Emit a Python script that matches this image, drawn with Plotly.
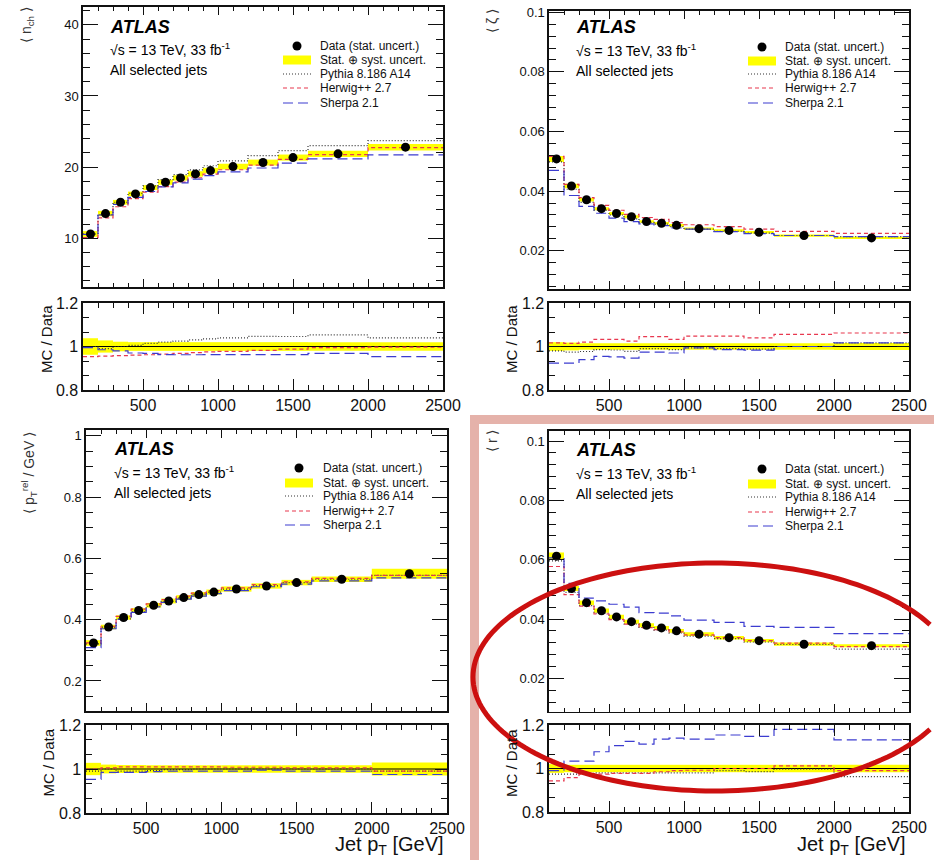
import math
import plotly.graph_objects as go

W, H = 934, 860
FONT = "Liberation Sans, Arial, Helvetica, sans-serif"

# ---------------- data ----------------
edges = [100, 200, 300, 400, 500, 600, 700, 800, 900, 1000, 1200, 1400, 1600, 2000, 2500]
xticks = [500, 1000, 1500, 2000, 2500]

# <n_ch>
nch_data = [10.6, 13.47, 15.06, 16.23, 17.12, 17.87, 18.48, 19.04, 19.51, 20.07, 20.64, 21.34, 21.86, 22.8]
nch_err = [0.038, 0.028, 0.022, 0.02, 0.02, 0.02, 0.02, 0.02, 0.02, 0.02, 0.02, 0.02, 0.02, 0.02]
nch_pythia = [1.0, 0.99, 1.0, 1.005, 1.014, 1.02, 1.025, 1.03, 1.035, 1.04, 1.047, 1.046, 1.053, 1.04]
nch_herwig = [0.953, 0.956, 0.958, 0.96, 0.962, 0.965, 0.968, 0.972, 0.975, 0.978, 0.982, 0.988, 0.995, 0.997]
nch_sherpa = [0.995, 0.985, 0.98, 0.97, 0.968, 0.963, 0.962, 0.962, 0.963, 0.963, 0.963, 0.963, 0.968, 0.953]

# <zeta>
zeta_data = [0.0508, 0.0417, 0.0371, 0.0341, 0.0325, 0.0314, 0.0298, 0.0292, 0.0285, 0.0274, 0.0268, 0.0262, 0.0251, 0.0243]
zeta_err = [0.02, 0.018, 0.015, 0.015, 0.015, 0.015, 0.015, 0.015, 0.015, 0.015, 0.015, 0.015, 0.015, 0.016]
zeta_pythia = [0.98, 0.974, 0.977, 0.986, 0.984, 0.978, 0.99, 0.99, 0.986, 0.994, 0.99, 0.988, 1.0, 1.017]
zeta_herwig = [1.017, 1.014, 1.02, 1.033, 1.033, 1.025, 1.045, 1.045, 1.033, 1.048, 1.048, 1.04, 1.056, 1.062]
zeta_sherpa = [0.924, 0.924, 0.94, 0.955, 0.952, 0.947, 0.974, 0.974, 0.97, 0.994, 0.986, 0.983, 1.0, 1.017]

# <pT_rel>
ptrel_data = [0.324, 0.376, 0.407, 0.430, 0.447, 0.461, 0.472, 0.482, 0.490, 0.500, 0.510, 0.521, 0.532, 0.550]
ptrel_err = [0.028, 0.02, 0.018, 0.018, 0.017, 0.017, 0.017, 0.017, 0.017, 0.017, 0.017, 0.017, 0.017, 0.03]
ptrel_pythia = [0.99, 1.0, 0.99, 0.99, 0.993, 0.997, 0.997, 1.0, 1.0, 1.0, 1.0, 1.0, 1.0, 0.99]
ptrel_herwig = [1.0, 1.005, 1.01, 1.01, 1.01, 1.01, 1.01, 1.01, 1.01, 1.008, 1.008, 1.005, 1.005, 0.99]
ptrel_sherpa = [0.953, 0.985, 0.985, 0.985, 0.988, 0.99, 0.99, 0.99, 0.99, 0.99, 0.995, 0.99, 0.99, 0.975]

# <r>
r_data = [0.0612, 0.0503, 0.0455, 0.0428, 0.0407, 0.0391, 0.0379, 0.0370, 0.0360, 0.0349, 0.0337, 0.0327, 0.0315, 0.0310]
r_err = [0.02, 0.017, 0.017, 0.017, 0.017, 0.017, 0.017, 0.017, 0.017, 0.017, 0.017, 0.017, 0.017, 0.017]
r_pythia = [0.974, 0.974, 0.978, 0.98, 0.98, 0.98, 0.98, 0.98, 0.98, 0.98, 0.99, 0.986, 0.997, 0.963]
r_herwig = [0.943, 0.958, 0.974, 0.974, 0.978, 0.978, 0.978, 0.985, 0.99, 0.992, 1.0, 1.0, 1.012, 0.99]
r_sherpa = [0.99, 1.034, 1.034, 1.077, 1.105, 1.125, 1.112, 1.135, 1.14, 1.135, 1.154, 1.148, 1.18, 1.132]

legend_labels = ["Data (stat. uncert.)", "Stat. \u2295 syst. uncert.", "Pythia 8.186 A14", "Herwig++ 2.7", "Sherpa 2.1"]

PY_C, HW_C, SH_C = "#333333", "#e8384f", "#3c3cd0"
PY_D, HW_D, SH_D = "1px,2px", "4px,3px", "10px,5px"
YEL = "#ffff00"

centers = [(a + b) / 2 for a, b in zip(edges[:-1], edges[1:])]
widths = [b - a for a, b in zip(edges[:-1], edges[1:])]


def X(px):
    return px / W


def Y(py):
    return 1 - py / H


panels = [
    dict(data=nch_data, err=nch_err, py=nch_pythia, hw=nch_herwig, sh=nch_sherpa,
         xd=(83, 443), md=(7, 287), rd=(303, 390), yr=[3.15, 42.5],
         yt=[10, 20, 30, 40], ytt=["10", "20", "30", "40"], ymin=2,
         ytitle="\u27e8 n<sub>ch</sub> \u27e9", yt_pos=(27, 5),
         mcd_pos=(46, 303), txt=(108, [27, 49, 70]),
         leg=(297, 318, (283, 311), [46, 60, 74, 88, 103]), xlabel=False),
    dict(data=zeta_data, err=zeta_err, py=zeta_pythia, hw=zeta_herwig, sh=zeta_sherpa,
         xd=(549, 909), md=(10.5, 289.3), rd=(303, 390), yr=[0.00705, 0.1006],
         yt=[0.02, 0.04, 0.06, 0.08, 0.1], ytt=["0.02", "0.04", "0.06", "0.08", "0.1"], ymin=0.004,
         ytitle="\u27e8 \u03b6 \u27e9", yt_pos=(492, 7),
         mcd_pos=(511, 303), txt=(574, [27, 50, 71]),
         leg=(762, 783, (748, 776), [47, 61, 74, 88, 103]), xlabel=False),
    dict(data=ptrel_data, err=ptrel_err, py=ptrel_pythia, hw=ptrel_herwig, sh=ptrel_sherpa,
         xd=(86, 447), md=(430, 711), rd=(725, 813), yr=[0.102, 1.019],
         yt=[0.2, 0.4, 0.6, 0.8, 1.0], ytt=["0.2", "0.4", "0.6", "0.8", "1"], ymin=0.05,
         ytitle="\u27e8 p<sub>T</sub><sup>rel</sup> / GeV \u27e9", yt_pos=(29, 430),
         mcd_pos=(47.5, 727), txt=(112, [449, 472, 493]),
         leg=(299, 321, (285, 313), [468, 483, 496, 511, 525]), xlabel=True),
    dict(data=r_data, err=r_err, py=r_pythia, hw=r_herwig, sh=r_sherpa,
         xd=(549, 909), md=(430.7, 711.7), rd=(725, 812), yr=[0.00874, 0.1035],
         yt=[0.02, 0.04, 0.06, 0.08, 0.1], ytt=["0.02", "0.04", "0.06", "0.08", "0.1"], ymin=0.004,
         ytitle="\u27e8 r \u27e9", yt_pos=(492, 428),
         mcd_pos=(511, 727), txt=(574, [450, 473, 494]),
         leg=(762, 783, (748, 776), [469, 484, 497, 512, 526]), xlabel=True),
]

fig = go.Figure()
layout = dict(width=W, height=H, margin=dict(l=0, r=0, t=0, b=0, pad=0, autoexpand=False), autosize=False,
              paper_bgcolor="white", plot_bgcolor="white", showlegend=False,
              barmode="overlay", font=dict(family=FONT, color="#111"))
shapes = []
annotations = []

AX_COMMON = dict(showline=True, linecolor="#111", linewidth=1.6, mirror="allticks", automargin=False,
                 ticks="inside", tickcolor="#111", tickwidth=1, showgrid=False, zeroline=False)


def steps(vals):
    return list(vals) + [vals[-1]]


def nm(a, k):
    return a if k == 1 else f"{a}{k}"


for i, p in enumerate(panels):
    km, kr = 2 * i + 1, 2 * i + 2
    xm, ym = ("x" if km == 1 else f"x{km}"), ("y" if km == 1 else f"y{km}")
    xr, yr_ = f"x{kr}", f"y{kr}"
    d = p["data"]

    # main panel
    fig.add_trace(go.Bar(x=centers, width=widths,
                         base=[v * (1 - e) for v, e in zip(d, p["err"])],
                         y=[2 * v * e for v, e in zip(d, p["err"])],
                         marker=dict(color=YEL, line=dict(width=0)), xaxis=xm, yaxis=ym))
    for key, col, dash in (("py", PY_C, PY_D), ("hw", HW_C, HW_D), ("sh", SH_C, SH_D)):
        vals = [r * v for r, v in zip(p[key], d)]
        fig.add_trace(go.Scatter(x=edges, y=steps(vals), mode="lines", line_shape="hv",
                                 line=dict(color=col, width=1.2, dash=dash), xaxis=xm, yaxis=ym))
    fig.add_trace(go.Scatter(x=centers, y=d, mode="markers",
                             marker=dict(color="black", size=9), xaxis=xm, yaxis=ym))

    # ratio panel
    fig.add_trace(go.Bar(x=centers, width=widths,
                         base=[1 - e for e in p["err"]], y=[2 * e for e in p["err"]],
                         marker=dict(color=YEL, line=dict(width=0)), xaxis=xr, yaxis=yr_))
    fig.add_trace(go.Scatter(x=[edges[0], edges[-1]], y=[1, 1], mode="lines",
                             line=dict(color="black", width=1.2), xaxis=xr, yaxis=yr_))
    for key, col, dash in (("py", PY_C, PY_D), ("hw", HW_C, HW_D), ("sh", SH_C, SH_D)):
        fig.add_trace(go.Scatter(x=edges, y=steps(p[key]), mode="lines", line_shape="hv",
                                 line=dict(color=col, width=1.2, dash=dash), xaxis=xr, yaxis=yr_))

    xdom = [X(p["xd"][0]), X(p["xd"][1])]
    layout[nm("xaxis", km)] = dict(AX_COMMON, domain=xdom, range=[edges[0], edges[-1]],
                                   anchor=ym, tickvals=xticks, showticklabels=False, ticklen=8,
                                   minor=dict(dtick=100, tick0=0, ticks="inside", ticklen=4,
                                              tickcolor="#111", tickwidth=1, showgrid=False))
    layout[nm("yaxis", km)] = dict(AX_COMMON, domain=[Y(p["md"][1]), Y(p["md"][0])], range=p["yr"],
                                   anchor=xm, tickmode="array", tickvals=p["yt"], ticktext=p["ytt"],
                                   ticklen=15, tickfont=dict(size=13, family=FONT, color="#111"),
                                   minor=dict(dtick=p["ymin"], tick0=0, ticks="inside", ticklen=7,
                                              tickcolor="#111", tickwidth=1, showgrid=False))
    layout[nm("xaxis", kr)] = dict(AX_COMMON, domain=xdom, range=[edges[0], edges[-1]],
                                   anchor=yr_, tickmode="array", tickvals=xticks,
                                   ticktext=[str(t) for t in xticks], ticklen=11,
                                   tickfont=dict(size=16, family=FONT, color="#111"),
                                   minor=dict(dtick=100, tick0=0, ticks="inside", ticklen=5,
                                              tickcolor="#111", tickwidth=1, showgrid=False))
    layout[nm("yaxis", kr)] = dict(AX_COMMON, domain=[Y(p["rd"][1]), Y(p["rd"][0])], range=[0.8, 1.2],
                                   anchor=xr, tickmode="array", tickvals=[0.8, 1.0, 1.2],
                                   ticktext=["0.8", "1", "1.2"], ticklen=12,
                                   tickfont=dict(size=16, family=FONT, color="#111"),
                                   minor=dict(dtick=0.2 / 3, tick0=0.8, ticks="inside", ticklen=6,
                                              tickcolor="#111", tickwidth=1, showgrid=False))

    # texts
    tx, tys = p["txt"]
    annotations.append(dict(text="<b><i>ATLAS</i></b>", x=X(tx), y=Y(tys[0]), xref="paper", yref="paper",
                            xanchor="left", yanchor="middle", showarrow=False,
                            font=dict(size=18, family=FONT, color="black")))
    annotations.append(dict(text="\u221as = 13 TeV, 33 fb<sup>-1</sup>", x=X(tx), y=Y(tys[1]),
                            xref="paper", yref="paper", xanchor="left", yanchor="middle", showarrow=False,
                            font=dict(size=14, family=FONT, color="black")))
    annotations.append(dict(text="All selected jets", x=X(tx), y=Y(tys[2]), xref="paper", yref="paper",
                            xanchor="left", yanchor="middle", showarrow=False,
                            font=dict(size=14, family=FONT, color="black")))
    # y titles
    annotations.append(dict(text=p["ytitle"], x=X(p["yt_pos"][0]), y=Y(p["yt_pos"][1]),
                            xref="paper", yref="paper", xanchor="center", yanchor="top",
                            textangle=-90, showarrow=False, font=dict(size=14, family=FONT, color="#333")))
    annotations.append(dict(text="MC / Data", x=X(p["mcd_pos"][0]), y=Y(p["mcd_pos"][1]),
                            xref="paper", yref="paper", xanchor="center", yanchor="top",
                            textangle=-90, showarrow=False, font=dict(size=15, family=FONT, color="#111")))
    if p["xlabel"]:
        annotations.append(dict(text="Jet p<sub>T</sub> [GeV]", x=X(p["xd"][1] - 1), y=Y(860),
                                xref="paper", yref="paper", xanchor="right", yanchor="bottom",
                                showarrow=False, font=dict(size=20, family=FONT, color="#111")))

    # legend
    mx, lx, (lx0, lx1), rows = p["leg"]
    for lab, ry in zip(legend_labels, rows):
        annotations.append(dict(text=lab, x=X(lx), y=Y(ry), xref="paper", yref="paper",
                                xanchor="left", yanchor="middle", showarrow=False,
                                font=dict(size=12, family=FONT, color="#111")))
    shapes.append(dict(type="circle", xref="paper", yref="paper", x0=X(mx - 4.5), x1=X(mx + 4.5),
                       y0=Y(rows[0] + 4.5), y1=Y(rows[0] - 4.5), fillcolor="black", line=dict(width=0)))
    shapes.append(dict(type="rect", xref="paper", yref="paper", x0=X(lx0), x1=X(lx1),
                       y0=Y(rows[1] + 4.5), y1=Y(rows[1] - 4.5), fillcolor=YEL, line=dict(width=0)))
    for ry, col, dash in zip(rows[2:], (PY_C, HW_C, SH_C), (PY_D, HW_D, SH_D)):
        shapes.append(dict(type="line", xref="paper", yref="paper", x0=X(lx0), x1=X(lx1),
                           y0=Y(ry), y1=Y(ry), line=dict(color=col, width=1.2, dash=dash)))

# pink highlight frame (open path, kept inside the page)
frame_path = f"M {X(474.5)} {Y(860)} L {X(474.5)} {Y(419.5)} L {X(934)} {Y(419.5)}"
shapes.append(dict(type="path", xref="paper", yref="paper", path=frame_path,
                   line=dict(color="#e5b2aa", width=9), layer="above"))

# red hand-drawn ellipse, cut where it leaves the page on the right
ecx, ecy, ea, eb = 715, 677, 242, 114
t0 = math.degrees(math.acos((930 - ecx) / ea))
pts = []
n_seg = 160
for k in range(n_seg + 1):
    t = math.radians(t0 + (360 - 2 * t0) * k / n_seg)
    pts.append((X(ecx + ea * math.cos(t)), Y(ecy - eb * math.sin(t))))
ell_path = "M " + " L ".join(f"{a:.5f} {b:.5f}" for a, b in pts)
shapes.append(dict(type="path", xref="paper", yref="paper", path=ell_path,
                   line=dict(color="#cc1010", width=5), layer="above"))

layout["shapes"] = shapes
layout["annotations"] = annotations
fig.update_layout(**layout)
fig.write_html("out.html", config={"displayModeBar": False, "staticPlot": True},
               post_script="document.body.style.margin='0';document.body.style.padding='0';")
